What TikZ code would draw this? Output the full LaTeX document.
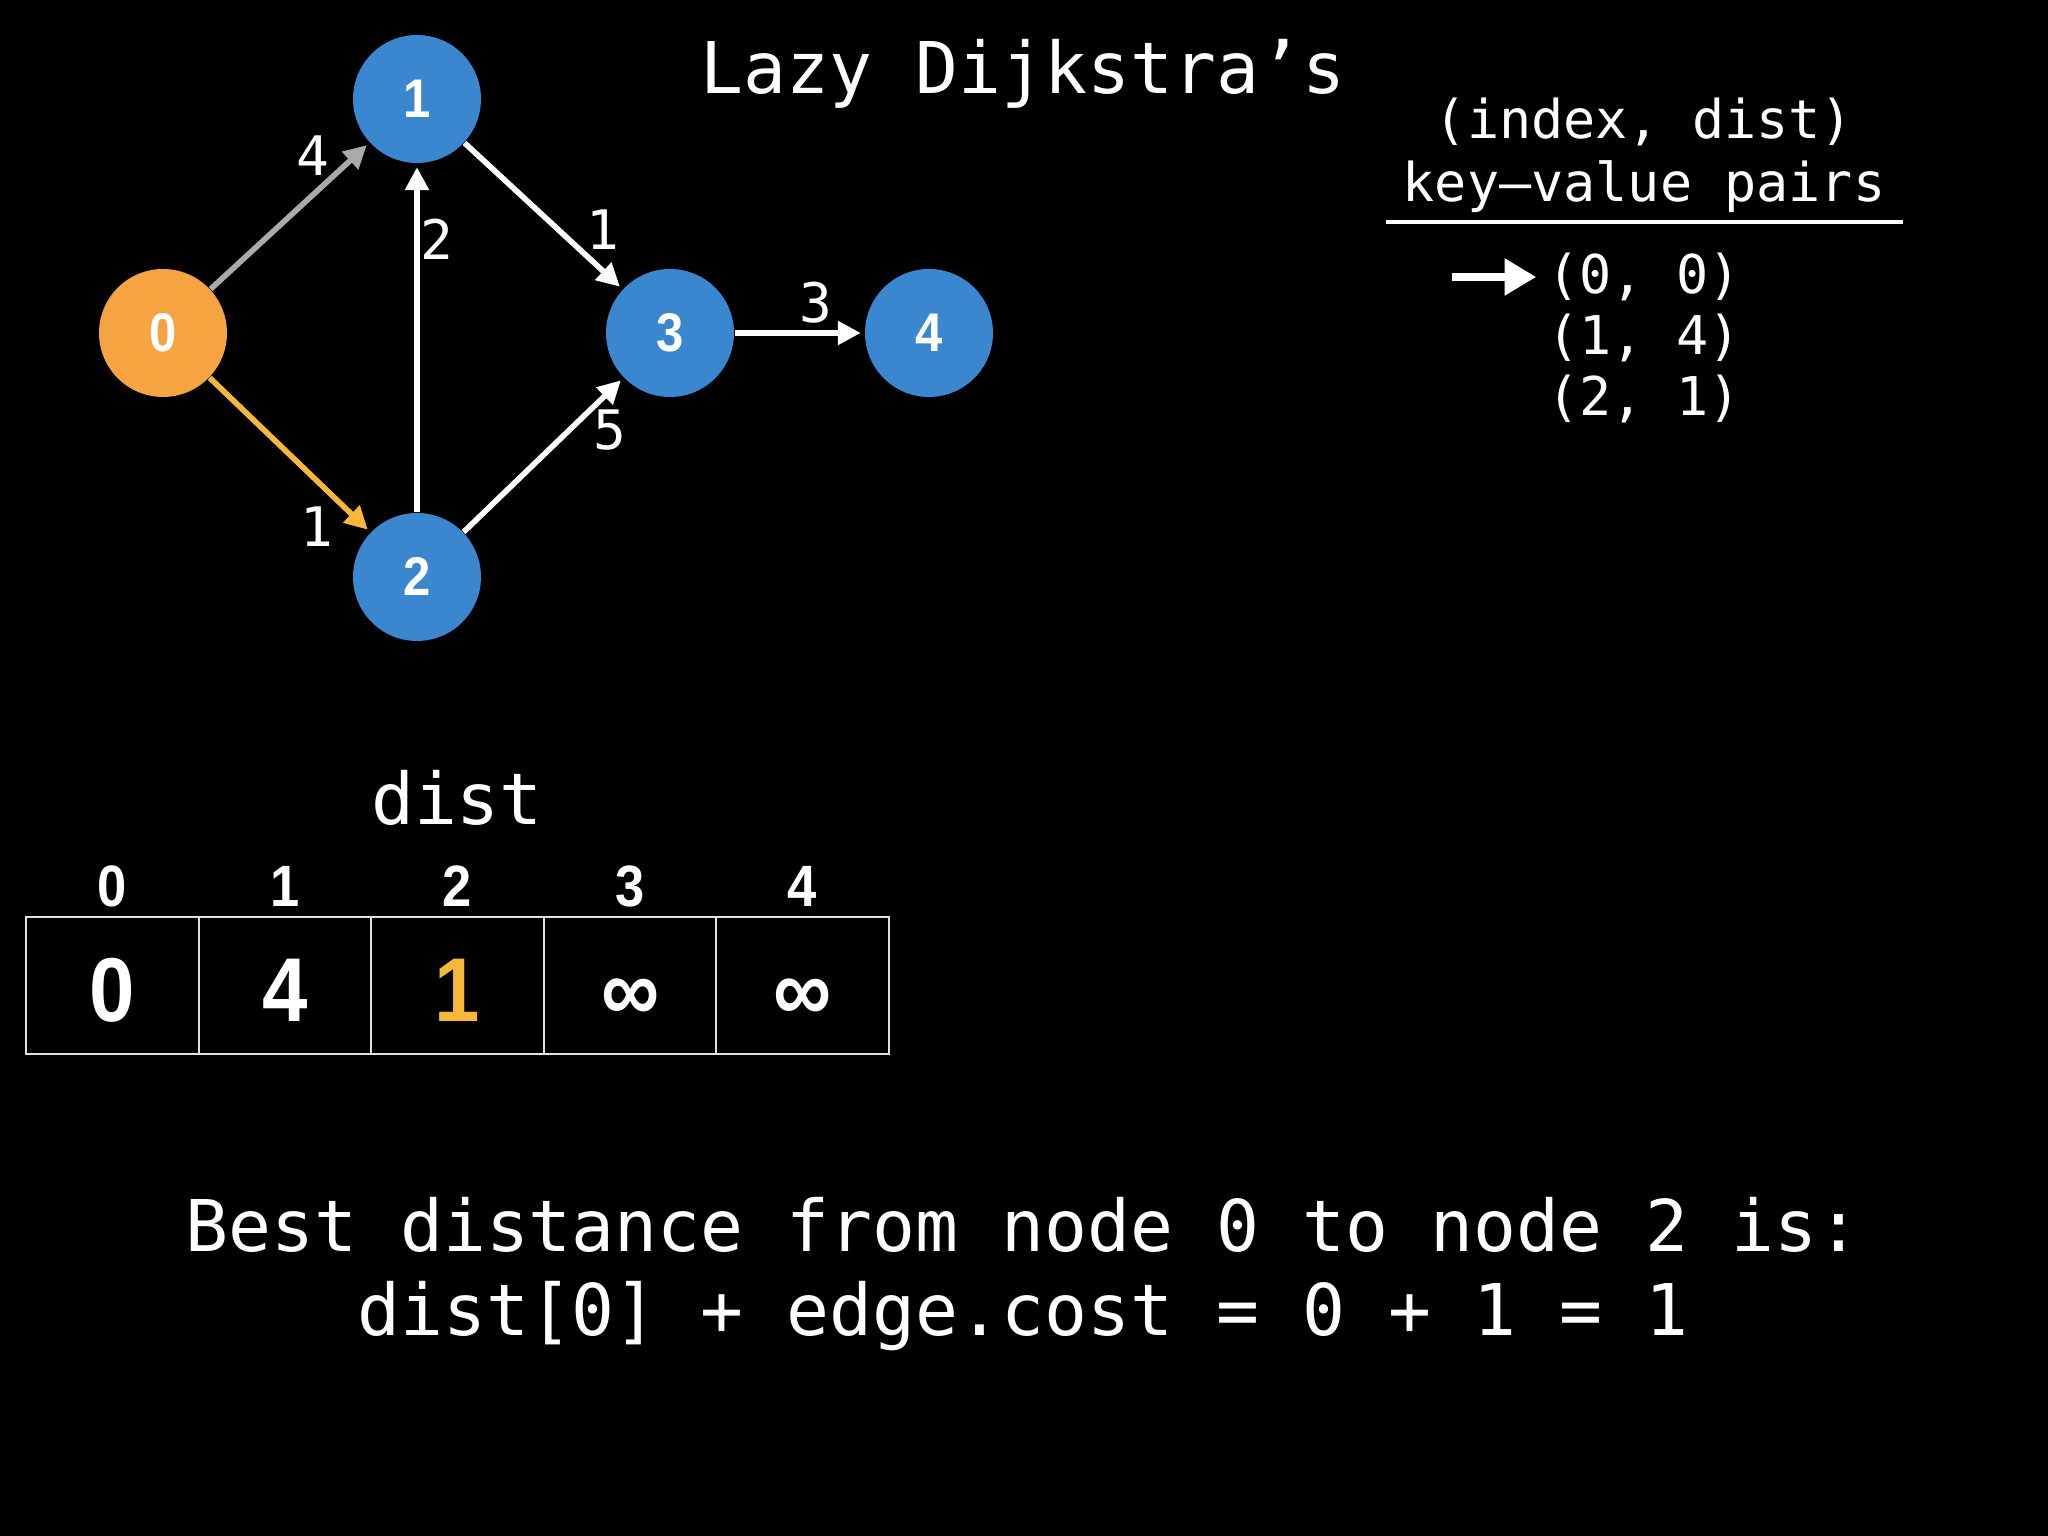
\documentclass[tikz,border=0pt]{standalone}
\usepackage{fontspec}
\newfontfamily\monofont{DejaVu Sans Mono}
\newfontfamily\numfont{Liberation Sans}[FakeStretch=0.9]
\usetikzlibrary{arrows.meta,positioning}
\definecolor{nodeblue}{RGB}{58,134,207}
\definecolor{nodeorange}{RGB}{246,163,66}
\definecolor{edgeorange}{RGB}{247,184,58}
\definecolor{edgegray}{RGB}{170,170,170}
\definecolor{cellline}{RGB}{225,225,225}

\begin{document}
\begin{tikzpicture}[
  vert/.style={circle, fill=nodeblue, minimum size=12.8mm, inner sep=0pt,
               text=white, font=\numfont\bfseries\fontsize{15.5}{18}\selectfont},
  src/.style={vert, fill=nodeorange},
  edge/.style={-{Triangle[length=6.5pt,width=6.5pt]}, line width=1.6pt, white,
               shorten >=1pt},
  wlab/.style={font=\monofont\fontsize{15.5}{18}\selectfont, text=white, inner sep=1pt},
  big/.style={font=\monofont\fontsize{20.3}{23.8}\selectfont, text=white, align=center},
  pair/.style={font=\monofont\fontsize{15.2}{18}\selectfont, text=white, inner sep=1pt},
  idx/.style={font=\numfont\bfseries\fontsize{16.6}{19}\selectfont, text=white},
  cell/.style={draw=cellline, line width=0.6pt, minimum width=1.726cm,
               minimum height=1.37cm, inner sep=0pt, text=white,
               text height=0.72cm, text depth=0pt,
               font=\numfont\bfseries\fontsize{25.8}{30}\selectfont},
  ptr/.style={-{Triangle[length=9pt,width=10pt]}, line width=2.5pt, white, shorten >=2pt}
]
  % Background
  \fill[black] (0,0) rectangle (20.48,15.36);

  % Title
  \node[big] (title) at (10.23,14.62) {Lazy Dijkstra’s};

  % Graph
  \node[src]  (v0) at (1.63,12.03) {0};
  \node[vert] (v1) at (4.17,14.37) {1};
  \node[vert] (v2) at (4.17,9.59)  {2};
  \node[vert] (v3) at (6.70,12.03) {3};
  \node[vert] (v4) at (9.29,12.03) {4};

  \draw[edge, edgegray]   (v0) -- (v1);
  \draw[edge, edgeorange] (v0) -- (v2);
  \draw[edge] (v2) -- (v1);
  \draw[edge] (v1) -- (v3);
  \draw[edge] (v2) -- (v3);
  \draw[edge] (v3) -- (v4);

  % Edge weights
  \node[wlab] (w01) at (3.13,13.80) {4};
  \node[wlab] (w02) at (3.17,10.09) {1};
  \node[wlab] (w21) at (4.37,12.97) {2};
  \node[wlab] (w13) at (6.03,13.06) {1};
  \node[wlab] (w23) at (6.10,11.06) {5};
  \node[wlab] (w34) at (8.16,12.33) {3};

  % Priority queue
  \node[pair] (pqhead) at (16.44,14.14) {(index, dist)};
  \node[pair] (pqsub)  at (16.44,13.49) {key–value pairs};
  \coordinate (barl) at (13.86,13.14);
  \coordinate (barr) at (19.03,13.14);
  \draw[white, line width=1.4pt] (barl) -- (barr);
  \node[pair] (p0) at (16.44,12.59) {(0, 0)};
  \node[pair] (p1) at (16.44,11.98) {(1, 4)};
  \node[pair] (p2) at (16.44,11.37) {(2, 1)};
  \coordinate (pstart) at ([xshift=-0.91cm]p0.west);
  \draw[ptr] (pstart) -- (p0.west);

  % dist array
  \node[big] (distlab) at (4.57,7.38) {dist};
  \node[idx] (i0) at (1.12,6.50) {0};
  \node[idx] (i1) at (2.85,6.50) {1};
  \node[idx] (i2) at (4.57,6.50) {2};
  \node[idx] (i3) at (6.30,6.50) {3};
  \node[idx] (i4) at (8.02,6.50) {4};
  \node[cell] (c0) at (1.123,5.505) {0};
  \node[cell] (c1) at (2.849,5.505) {4};
  \node[cell, text=edgeorange] (c2) at (4.575,5.505) {1};
  \node[cell] (c3) at (6.301,5.505) {∞};
  \node[cell] (c4) at (8.027,5.505) {∞};

  % Explanation
  \node[big] (note) at (10.23,2.62)
    {Best distance from node 0 to node 2 is:\\ dist[0] + edge.cost = 0 + 1 = 1};
\end{tikzpicture}
\end{document}
